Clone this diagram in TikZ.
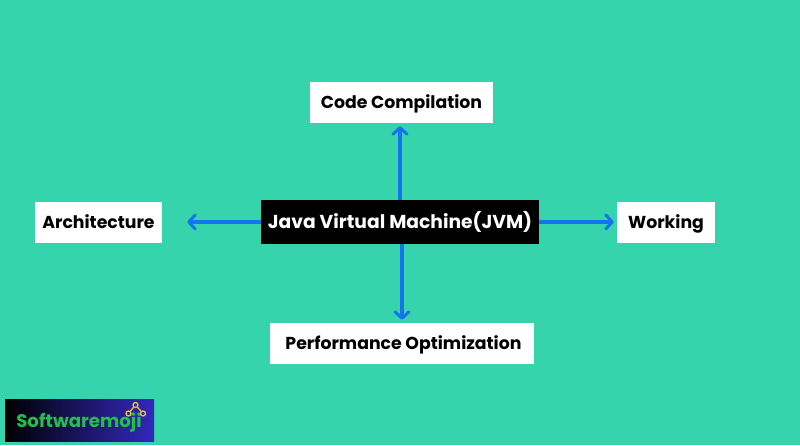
\documentclass[tikz,border=0pt]{standalone}
\usepackage{fontspec}
\setmainfont{Poppins}
\usetikzlibrary{arrows.meta}
\definecolor{bggreen}{HTML}{36D4AC}
\definecolor{linkblue}{HTML}{1573EE}
\definecolor{logogreen}{HTML}{22BE4C}
\definecolor{logoyellow}{HTML}{EFC62A}
\definecolor{logoblue}{HTML}{3228BE}
\tikzset{
  topic/.style={fill=white,text=black,font=\bfseries\fontsize{17.3}{20}\selectfont,inner sep=0pt,anchor=center,text height=16pt,text depth=4pt},
  link/.style={draw=linkblue,line width=3.6pt,shorten >=3pt,-{Straight Barb[length=6.5pt,width=14pt,line width=3pt,round]}},
  dot/.style={circle,draw=logoyellow,line width=1.3pt,inner sep=0pt,minimum size=5pt}
}
\begin{document}
\begin{tikzpicture}[x=1pt,y=1pt]
  \useasboundingbox[fill=bggreen] (0,0) rectangle (800,445);
  \node[fill=black,text=white,font=\bfseries\fontsize{18.7}{22}\selectfont,minimum width=278pt,minimum height=44pt,inner sep=0pt] (main) at (400,223) {Java Virtual Machine(JVM)};
  \node[topic,minimum width=183pt,minimum height=41pt] (code) at (401.5,342.5) {Code Compilation};
  \node[topic,minimum width=127pt,minimum height=41pt] (arch) at (98.5,222.5) {Architecture};
  \node[topic,minimum width=98pt,minimum height=41pt] (work) at (666,222.5) {Working};
  \node[topic,minimum width=264pt,minimum height=41pt] (perf) at (402,101.5) {\hspace{3pt}Performance Optimization};
  \begin{scope}
    \draw[link] (main.north) -- (main.north |- code.south);
    \draw[link,shorten >=25pt] (main.west) -- (arch.east |- main.west);
    \draw[link] (main.east) -- (work.west |- main.east);
    \draw[link] (main.south -| perf.north) -- (perf.north);
  \end{scope}
  \node[left color=black,right color=logoblue,minimum width=149pt,minimum height=42pt,inner sep=0pt] (logo) at (79.5,25) {};
  \node[text=logogreen,font=\bfseries\fontsize{18.2}{20}\selectfont,inner sep=0pt] (name) at (79,22) {Softwaremoji};
  \node[dot] (d1) at (135.5,40) {};
  \node[dot] (d2) at (128.5,31.5) {};
  \node[dot] (d3) at (143,31.5) {};
  \draw[logoyellow,line width=1.3pt] (d1) -- (d2);
  \draw[logoyellow,line width=1.3pt] (d1) -- (d3);
\end{tikzpicture}
\end{document}
